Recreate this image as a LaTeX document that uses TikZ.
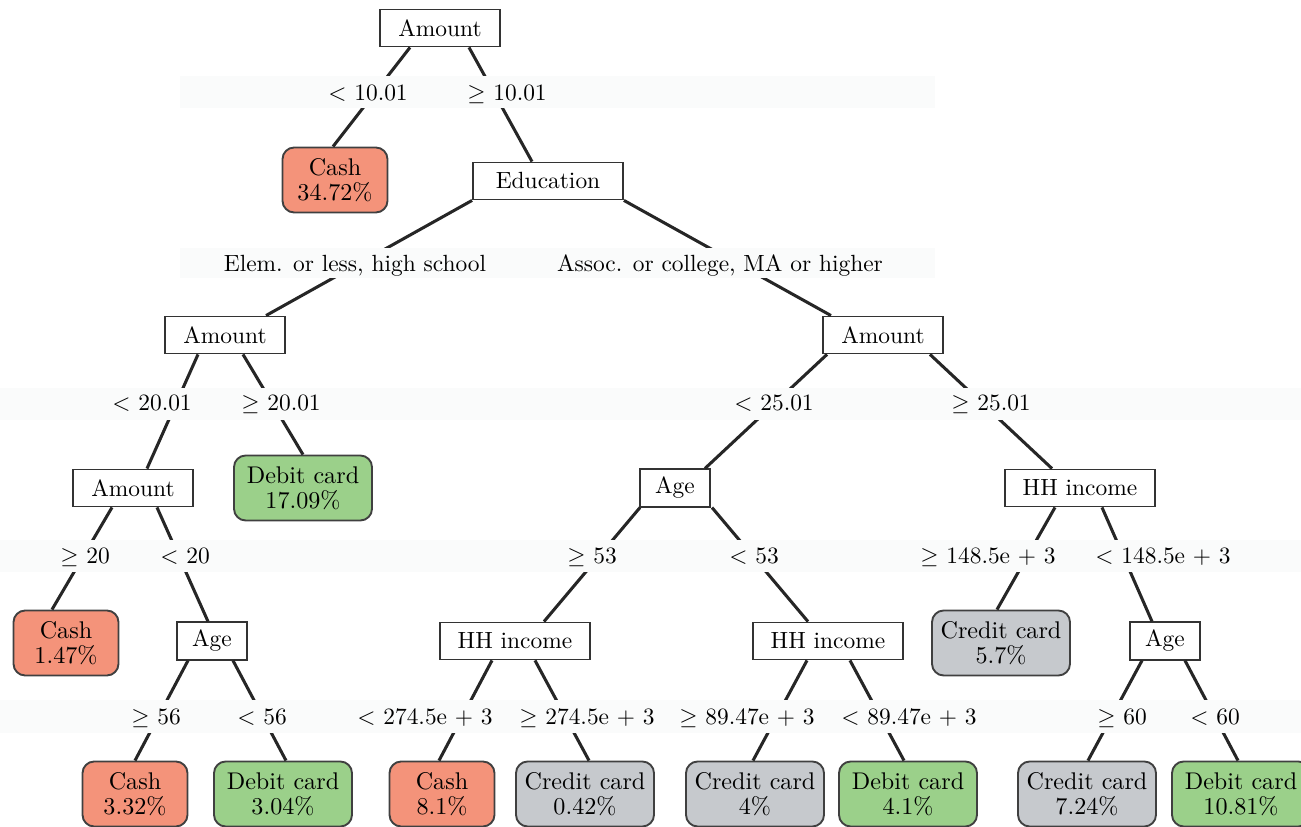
\documentclass[tikz,border=0pt]{standalone}
\usepackage{amsmath,amssymb}
\usepackage{tikz}
\usetikzlibrary{calc}
\definecolor{CashRed}{HTML}{F4937A}
\definecolor{DebitGreen}{HTML}{9BD08A}
\definecolor{CreditGray}{HTML}{C6C9CD}
\definecolor{BandGray}{HTML}{FAFBFB}
\tikzset{
  splitbox/.style={rectangle, draw=black!80, line width=0.8pt, fill=white, minimum height=0.555cm, inner xsep=0.1cm, font=\normalsize},
  leafbox/.style={rectangle, rounded corners=5pt, draw=black!75, line width=0.8pt, minimum width=1.575cm, minimum height=0.975cm, inner xsep=0.1cm, align=center, font=\fontsize{10.3}{10.8}\selectfont},
  cashleaf/.style={leafbox, fill=CashRed},
  debitleaf/.style={leafbox, fill=DebitGreen, minimum width=2.07cm},
  creditleaf/.style={leafbox, fill=CreditGray, minimum width=2.07cm},
  edge/.style={line width=1.3pt, black!85},
  band/.style={fill=BandGray, draw=none},
  splitlabel/.style={font=\normalsize, inner sep=0pt, anchor=base}
}

\begin{document}
\begin{tikzpicture}[x=0.015cm, y=-0.015cm]
  \useasboundingbox (0,0) rectangle (1301,827);
  \clip (0,0) rectangle (1301,827);

  % Split nodes
  \node[splitbox, minimum width=1.8cm] (root) at (440,28) {Amount};
  \node[splitbox, minimum width=2.25cm] (edu) at (548,181) {Education};
  \node[splitbox, minimum width=1.8cm] (amtL) at (225,335) {Amount};
  \node[splitbox, minimum width=1.8cm] (amtR) at (883,335) {Amount};
  \node[splitbox, minimum width=1.8cm] (amtLL) at (133,488) {Amount};
  \node[splitbox, minimum width=1.04cm] (ageM) at (675,488) {Age};
  \node[splitbox, minimum width=2.25cm] (hhR) at (1080,488) {HH income};
  \node[splitbox, minimum width=1.04cm] (ageL) at (212,641) {Age};
  \node[splitbox, minimum width=2.25cm] (hhML) at (515,641) {HH income};
  \node[splitbox, minimum width=2.25cm] (hhMR) at (828,641) {HH income};
  \node[splitbox, minimum width=1.04cm] (ageR) at (1165,641) {Age};

  % Leaves
  \node[cashleaf] (cashA) at (335,180) {Cash\\34.72\%};
  \node[debitleaf] (debitA) at (303,488) {Debit card\\17.09\%};
  \node[cashleaf] (cashB) at (66,643) {Cash\\1.47\%};
  \node[creditleaf] (creditA) at (1001,643) {Credit card\\5.7\%};
  \node[cashleaf] (cashC) at (135,794) {Cash\\3.32\%};
  \node[debitleaf] (debitB) at (283,794) {Debit card\\3.04\%};
  \node[cashleaf] (cashD) at (442,794) {Cash\\8.1\%};
  \node[creditleaf] (creditB) at (585,794) {Credit card\\0.42\%};
  \node[creditleaf] (creditC) at (755,794) {Credit card\\4\%};
  \node[debitleaf] (debitC) at (908,794) {Debit card\\4.1\%};
  \node[creditleaf] (creditD) at (1087,794) {Credit card\\7.24\%};
  \node[debitleaf] (debitD) at (1241,794) {Debit card\\10.81\%};

  % Edges
  \draw[edge] ($(root.south)+(-30,0)$) -- ($(cashA.north)+(-2,0)$);
  \draw[edge] ($(root.south)+(29,0)$) -- ($(edu.north)+(-16,0)$);
  \draw[edge] (edu.south west) -- ($(amtL.north)+(41,0)$);
  \draw[edge] (edu.south east) -- ($(amtR.north)+(-52,0)$);
  \draw[edge] ($(amtL.south)+(-27,0)$) -- ($(amtLL.north)+(14,0)$);
  \draw[edge] ($(amtL.south)+(18,0)$) -- (debitA.north);
  \draw[edge] ($(amtR.south)+(-56,0)$) -- ($(ageM.north)+(30,0)$);
  \draw[edge] ($(amtR.south)+(47,0)$) -- ($(hhR.north)+(-28,0)$);
  \draw[edge] ($(amtLL.south)+(-21,0)$) -- ($(cashB.north)+(-14,0)$);
  \draw[edge] ($(amtLL.south)+(24,0)$) -- ($(ageL.north)+(-4,0)$);
  \draw[edge] ($(ageM.south)+(-35,0)$) -- ($(hhML.north)+(29,0)$);
  \draw[edge] ($(ageM.south)+(37,0)$) -- ($(hhMR.north)+(-20,0)$);
  \draw[edge] ($(hhR.south)+(-25,0)$) -- ($(creditA.north)+(-4,0)$);
  \draw[edge] ($(hhR.south)+(22,0)$) -- ($(ageR.north)+(-13,0)$);
  \draw[edge] ($(ageL.south)+(-24,0)$) -- (cashC.north);
  \draw[edge] ($(ageL.south)+(21,0)$) -- ($(debitB.north)+(3,0)$);
  \draw[edge] ($(hhML.south)+(-23,0)$) -- ($(cashD.north)+(-3,0)$);
  \draw[edge] ($(hhML.south)+(20,0)$) -- ($(creditB.north)+(4,0)$);
  \draw[edge] ($(hhMR.south)+(-21,0)$) -- ($(creditC.north)+(-2,0)$);
  \draw[edge] ($(hhMR.south)+(22,0)$) -- ($(debitC.north)+(-4,0)$);
  \draw[edge] ($(ageR.south)+(-23,0)$) -- ($(creditD.north)+(1,0)$);
  \draw[edge] ($(ageR.south)+(20,0)$) -- ($(debitD.north)+(-3,0)$);

  % Label bands
  \fill[band] (180,76) rectangle (935,108);
  \fill[band] (180,248) rectangle (935,278);
  \fill[band] (0,388) rectangle (1301,420);
  \fill[band] (0,540) rectangle (1301,572);
  \fill[band] (0,700) rectangle (1301,733);

  % Split labels
  \node[splitlabel] (l10a) at (368,101) {$<$ 10.01};
  \node[splitlabel] (l10b) at (507,101) {$\geq$ 10.01};
  \node[splitlabel] (ledA) at (355,272) {Elem. or less, high school};
  \node[splitlabel] (ledB) at (720,272) {Assoc. or college, MA or higher};
  \node[splitlabel] (l2001a) at (152,411) {$<$ 20.01};
  \node[splitlabel] (l2001b) at (281,411) {$\geq$ 20.01};
  \node[splitlabel] (l2501a) at (774,411) {$<$ 25.01};
  \node[splitlabel] (l2501b) at (991,411) {$\geq$ 25.01};
  \node[splitlabel] (l20a) at (85,564) {$\geq$ 20};
  \node[splitlabel] (l20b) at (185,564) {$<$ 20};
  \node[splitlabel] (l53a) at (592,564) {$\geq$ 53};
  \node[splitlabel] (l53b) at (754,564) {$<$ 53};
  \node[splitlabel] (l148a) at (988,564) {$\geq$ 148.5e + 3};
  \node[splitlabel] (l148b) at (1163,564) {$<$ 148.5e + 3};
  \node[splitlabel] (l56a) at (156,725) {$\geq$ 56};
  \node[splitlabel] (l56b) at (262,725) {$<$ 56};
  \node[splitlabel] (l274a) at (425,725) {$<$ 274.5e + 3};
  \node[splitlabel] (l274b) at (587,725) {$\geq$ 274.5e + 3};
  \node[splitlabel] (l89a) at (747,725) {$\geq$ 89.47e + 3};
  \node[splitlabel] (l89b) at (909,725) {$<$ 89.47e + 3};
  \node[splitlabel] (l60a) at (1122,725) {$\geq$ 60};
  \node[splitlabel] (l60b) at (1215,725) {$<$ 60};
\end{tikzpicture}
\end{document}
